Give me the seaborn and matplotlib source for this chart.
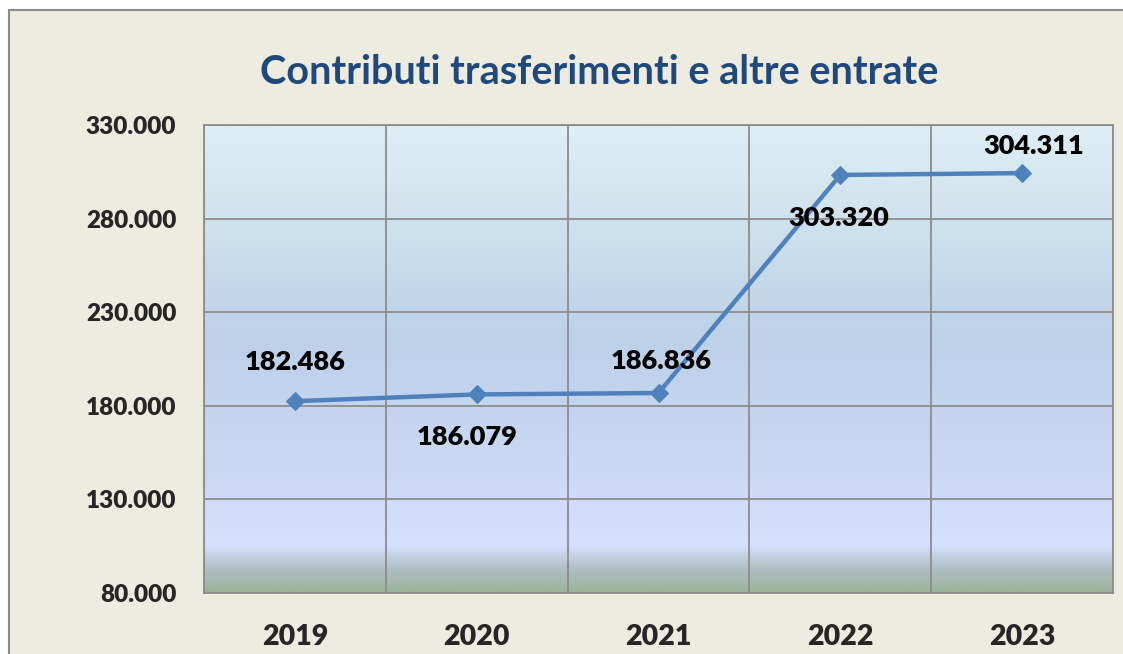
import matplotlib
matplotlib.use("Agg")
import matplotlib.pyplot as plt
import seaborn as sns
import numpy as np
import pandas as pd
from matplotlib.colors import LinearSegmentedColormap
from matplotlib.patches import Rectangle
from matplotlib.ticker import FuncFormatter

years = ["2019", "2020", "2021", "2022", "2023"]
values = [182486, 186079, 186836, 303320, 304311]
labels = ["182.486", "186.079", "186.836", "303.320", "304.311"]
title = "Contributi trasferimenti e altre entrate"
y_ticks = [80000, 130000, 180000, 230000, 280000, 330000]

sns.set_style("white")
plt.rcParams['font.family'] = ['Lato', 'DejaVu Sans']

W, H = 1123, 654
fig = plt.figure(figsize=(W / 100, H / 100), dpi=100)
fig.patch.set_facecolor("white")
# chart area background with border (extends past right/bottom)
fig.patches.append(Rectangle((9 / W, -0.05), 1.2, 1 - 10 / H + 0.05, transform=fig.transFigure,
                             facecolor="#EEEBE0", edgecolor="#8C8C8C", linewidth=1.5, zorder=-10))

ax = fig.add_axes([204 / W, 1 - 593 / H, (1113 - 204) / W, (593 - 125) / H])
ax.set_zorder(2)
ax.set_facecolor("none")

df = pd.DataFrame({"x": np.arange(len(years)), "v": values})

# gradient background
stops = [(0.0, "#9BB49C"), (0.05, "#B0C0C4"), (0.10, "#D6E0FF"), (0.25, "#CBD8F4"),
         (0.55, "#BDD1E9"), (0.80, "#CFE2EE"), (1.0, "#DDEEF4")]
cmap = LinearSegmentedColormap.from_list("bg", stops)
grad = np.linspace(0, 1, 400).reshape(-1, 1)
ax.imshow(grad, aspect="auto", cmap=cmap, origin="lower",
          extent=[-0.5, 4.5, 80000, 330000], zorder=0)

sns.lineplot(data=df, x="x", y="v", ax=ax, color="#4F81BD", linewidth=3.2,
             marker="D", markersize=9, markeredgecolor="#4F81BD", zorder=3)

ax.set_xlim(-0.5, 4.5)
ax.set_ylim(80000, 330000)
ax.set_yticks(y_ticks)
ax.yaxis.set_major_formatter(FuncFormatter(lambda v, p: f"{int(v):,}".replace(",", ".")))
ax.set_xticks(np.arange(-0.5, 5, 1))
ax.set_xticklabels([])
ax.set_xticks(np.arange(len(years)), minor=True)
ax.set_xticklabels(years, minor=True)
ax.tick_params(axis="x", which="minor", length=0, pad=22, labelsize=20.5)
ax.tick_params(axis="x", which="major", length=6, width=1.3, color="#8C8C8C", direction="out")
ax.tick_params(axis="y", length=6, width=1.3, color="#8C8C8C", direction="out", pad=14, labelsize=17.5)
for lab in ax.get_xticklabels(minor=True) + ax.get_yticklabels():
    lab.set_fontweight("heavy")
ax.grid(True, which="major", color="#8C8C8C", linewidth=1.3, zorder=1)
ax.set_axisbelow(False)
for sp in ax.spines.values():
    sp.set_visible(True)
    sp.set_color("#8C8C8C")
    sp.set_linewidth(1.3)
ax.set_xlabel("")
ax.set_ylabel("")

offsets_px = [(0, 39), (-10, -43), (3, 32), (-2, -43), (12, 27)]
for i, (lab, (dx, dy)) in enumerate(zip(labels, offsets_px)):
    ax.annotate(lab, (df["x"][i], df["v"][i]), xytext=(dx * 0.72, dy * 0.72),
                textcoords="offset points", ha="center", va="center",
                fontsize=19.5, fontweight="heavy", color="black", zorder=5)

fig.text(599 / W, 1 - 72 / H, title, ha="center", va="center", fontsize=28.5,
         fontweight="bold", color="#1F497D")

fig.savefig("out.png", dpi=100)
